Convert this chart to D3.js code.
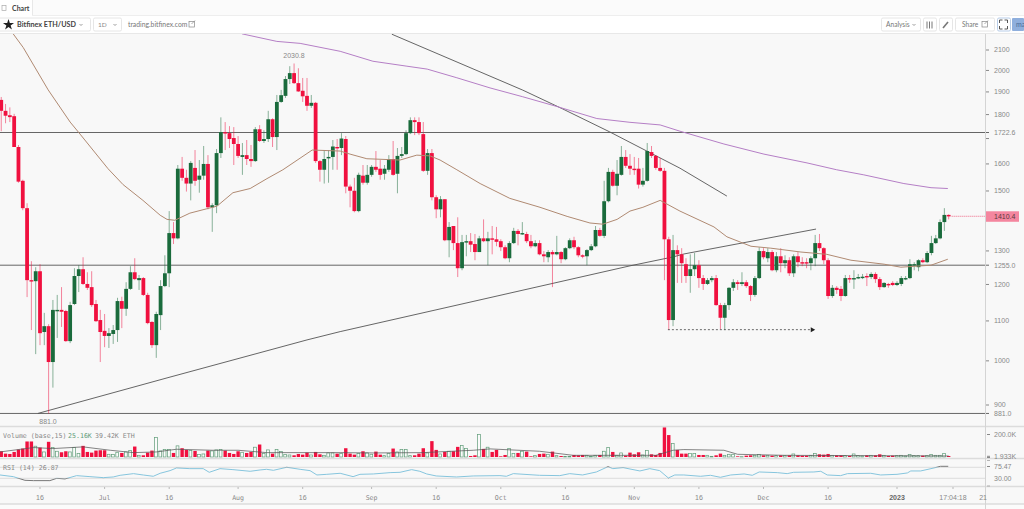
<!DOCTYPE html>
<html><head><meta charset="utf-8">
<script src="https://cdn.jsdelivr.net/npm/d3@7/dist/d3.min.js"></script>
<style>html,body{margin:0;padding:0;background:#fff;overflow:hidden}svg{display:block}text{font-family:"DejaVu Sans Mono",monospace}</style>
</head><body><svg id="c" width="1024" height="509"></svg>
<script>
const firstDay=-9; // days relative to 16 June 2022
const opens=[1862,1814,1795,1791,1664,1535,1438,1211,1208,
1237,1070,1085,996,1125,1128,1125,1047,1144,1223,
1243,1200,1191,1144,1101,1073,1060,1065,1075,1152,
1131,1186,1234,1211,1217,1169,1096,1037,1114,1194,
1231,1355,1338,1580,1546,1525,1583,1539,1554,1598,
1441,1448,1640,1724,1720,1700,1676,1625,1632,1617,
1609,1736,1688,1696,1778,1704,1853,1880,1957,1985,
1938,1903,1880,1836,1849,1609,1576,1621,1625,1664,
1660,1696,1514,1499,1428,1554,1528,1557,1587,1580,
1561,1576,1617,1561,1629,1636,1720,1774,1766,1716,
1572,1640,1476,1434,1469,1332,1378,1323,1246,1326,
1329,1320,1295,1338,1329,1338,1335,1329,1310,1276,
1323,1362,1352,1352,1329,1313,1323,1288,1279,1295,
1288,1295,1273,1307,1332,1310,1285,1282,1301,1313,
1365,1346,1462,1568,1517,1557,1625,1591,1580,1580,
1521,1535,1644,1629,1583,1572,1335,1101,1301,1288,
1258,1223,1243,1255,1217,1200,1211,1217,1141,1107,
1141,1189,1205,1200,1205,1194,1169,1217,1298,1276,
1295,1240,1282,1261,1270,1231,1282,1264,1264,1261,
1276,1323,1307,1270,1166,1189,1186,1166,1217,1214,
1217,1218,1223,1220,1229,1214,1191,1200,1203,1197,
1200,1214,1217,1255,1249,1270,1264,1292,1323,1338,
1391,1415];
const highs=[1875,1844,1829,1801,1672,1539,1455,1267,1249,
1258,1120,1090,1155,1169,1191,1128,1150,1246,1255,
1279,1234,1237,1155,1128,1117,1080,1088,1161,1164,
1205,1252,1276,1226,1220,1175,1098,1123,1211,1285,
1428,1391,1594,1625,1576,1609,1652,1613,1668,1632,
1455,1656,1786,1766,1749,1745,1708,1680,1692,1672,
1745,1753,1732,1814,1782,1884,1907,1971,2018,2031,
2008,1962,1962,1884,1853,1613,1652,1652,1692,1696,
1720,1708,1521,1546,1565,1594,1594,1594,1648,1613,
1594,1632,1688,1660,1664,1732,1786,1786,1786,1766,
1656,1656,1483,1480,1469,1391,1378,1407,1349,1349,
1355,1352,1346,1400,1359,1378,1375,1335,1316,1329,
1372,1368,1391,1359,1349,1332,1332,1298,1301,1301,
1346,1298,1310,1338,1343,1313,1288,1304,1320,1378,
1372,1535,1583,1576,1613,1668,1652,1636,1625,1621,
1583,1680,1668,1632,1621,1583,1343,1349,1316,1307,
1276,1288,1292,1270,1226,1217,1223,1226,1147,1147,
1191,1214,1211,1234,1211,1197,1223,1310,1307,1307,
1301,1295,1307,1285,1279,1288,1295,1279,1276,1282,
1349,1352,1310,1276,1197,1194,1194,1226,1226,1240,
1229,1229,1231,1234,1234,1220,1205,1203,1208,1208,
1223,1223,1273,1264,1273,1276,1298,1346,1349,1400,
1438,1417];
const lows=[1728,1761,1766,1664,1528,1431,1163,1075,1015,
1037,1037,881,937,1055,1083,1045,1042,1141,1177,
1197,1183,1136,1096,996,1032,1030,1040,1045,1080,
1112,1183,1211,1183,1166,1090,1030,1006,1075,1191,
1191,1320,1335,1535,1496,1465,1517,1492,1539,1434,
1359,1421,1621,1652,1660,1594,1621,1557,1594,1587,
1606,1684,1680,1684,1664,1652,1849,1871,1934,1934,
1898,1853,1814,1827,1602,1532,1525,1528,1576,1576,
1632,1490,1441,1424,1424,1521,1521,1550,1568,1539,
1539,1568,1554,1490,1621,1632,1716,1712,1712,1568,
1557,1465,1404,1407,1329,1279,1301,1220,1240,1282,
1295,1270,1295,1326,1255,1288,1313,1298,1273,1264,
1320,1316,1349,1323,1307,1310,1285,1264,1264,1191,
1285,1261,1270,1304,1304,1279,1276,1255,1298,1310,
1343,1339,1458,1514,1483,1554,1583,1557,1557,1507,
1514,1532,1621,1576,1568,1211,1075,1085,1203,1203,
1203,1175,1223,1189,1183,1197,1205,1139,1077,1075,
1128,1180,1183,1194,1189,1152,1164,1214,1273,1264,
1237,1234,1234,1246,1223,1220,1249,1252,1246,1240,
1252,1298,1258,1158,1161,1172,1152,1164,1203,1186,
1214,1214,1194,1214,1203,1183,1189,1189,1194,1194,
1194,1211,1214,1240,1237,1261,1261,1285,1320,1335,
1362,1400];
const closes=[1814,1793,1787,1664,1532,1438,1211,1208,1237,
1067,1085,996,1128,1128,1123,1047,1141,1223,1243,
1200,1189,1141,1098,1070,1060,1067,1075,1152,1131,
1186,1234,1214,1217,1169,1093,1037,1117,1194,1231,
1355,1338,1580,1546,1525,1602,1535,1554,1598,1441,
1448,1640,1724,1722,1696,1676,1629,1632,1617,1609,
1736,1688,1696,1778,1704,1853,1883,1957,1985,1938,
1900,1878,1836,1849,1609,1576,1617,1625,1666,1660,
1698,1514,1499,1428,1557,1528,1557,1587,1576,1557,
1580,1617,1557,1629,1636,1720,1774,1766,1720,1572,
1640,1476,1434,1469,1332,1375,1323,1246,1326,1329,
1318,1295,1338,1329,1338,1335,1327,1310,1276,1323,
1362,1352,1355,1329,1313,1323,1288,1282,1295,1288,
1295,1273,1307,1332,1310,1285,1282,1301,1313,1365,
1346,1462,1568,1517,1561,1625,1591,1580,1576,1521,
1535,1648,1629,1583,1572,1335,1101,1301,1288,1261,
1223,1243,1255,1217,1200,1211,1217,1141,1107,1141,
1189,1205,1200,1205,1194,1169,1217,1298,1279,1295,
1240,1282,1261,1270,1231,1282,1264,1261,1261,1276,
1323,1307,1270,1166,1189,1183,1166,1217,1214,1217,
1220,1221,1220,1229,1214,1191,1203,1197,1197,1203,
1217,1217,1258,1258,1270,1264,1292,1323,1338,1391,
1415,1410];
const volumesK=[51,30,27,45,66,75,138,138,96,
84,45,135,84,51,42,51,45,84,30,
99,45,39,57,60,60,24,21,42,36,
45,57,93,15,15,39,57,174,54,66,
66,36,99,78,63,57,54,21,27,57,
54,63,66,57,36,27,51,42,36,45,
87,111,30,63,30,66,48,21,18,15,
27,21,39,18,45,24,15,36,36,30,
30,78,30,21,30,51,36,24,48,21,
12,30,75,45,66,66,12,15,30,78,
36,141,63,27,45,51,51,90,102,75,
9,15,201,72,87,45,63,6,18,75,
30,36,51,48,6,12,27,30,24,48,
12,9,6,6,18,15,18,15,6,15,
18,51,84,45,15,36,12,39,24,42,
18,57,24,18,36,264,195,120,63,30,
30,30,30,18,18,15,6,15,30,15,
24,24,6,3,12,15,15,21,15,15,
12,12,15,12,15,27,15,12,12,15,
30,24,21,27,15,15,15,12,9,27,
12,9,15,15,15,24,15,9,12,12,
15,9,21,12,12,12,12,21,15,15,
30,9];
const ma200Days=[46.9,55,60.4,69.7,77.3,85.2,89.9,96.8,104.5,112.1,120,129.3,137,144,148.6,158.8,168.1,178.1,185,191.3,200.6,206.9,210.8];
const ma200Vals=[2180,2141,2131,2091,2042,2018,2004,1963,1916,1876,1833,1781,1765,1754,1728,1676,1636,1602,1576,1557,1525,1510,1507];
const ma50Days=[-6.3,-3.9,1.9,7,9.3,15.8,19.3,23.9,27.9,29.5,31.3,34.8,41.1,44.8,48.8,52.7,56.4,63.2,69.7,72,75.9,83.6,87.5,90.6,92.9,96.8,102.2,109.1,116.1,122.4,127.7,130.7,134,137,140,144,148.6,156.5,159.5,165.1,169.7,176.7,182.7,188.3,196,199.9,206.9,210.8];
const ma50Vals=[2182,2110,1907,1766,1716,1580,1521,1465,1414,1400,1397,1421,1445,1492,1507,1543,1576,1652,1648,1636,1618,1613,1632,1629,1613,1576,1525,1472,1441,1410,1388,1384,1400,1428,1441,1465,1428,1375,1343,1313,1307,1295,1288,1270,1258,1249,1255,1273];
const volMaDays=[-9.3,-1.5,3,10,16.3,21.7,27,31.7,40,46,52.6,69.7,77.4,89,100.6,104.5,116,123.8,131.6,143,147,149.5,158.8,162,172.8,211];
const volMaVals=[45,84,75,90,60,39,45,69,60,60,39,39,36,39,60,72,51,15,15,15,60,66,60,24,15,9];
const rsiDays=[-9.3,-6.2,-3.5,-1.5,2.3,3.9,5.8,8.5,11.6,14.7,17,18.6,21.7,24,26.3,27.9,30.2,31.7,34.8,37.9,39.3,41.8,44.8,48.8,51.1,52.6,54.2,57.3,60.4,62.7,64.3,66.6,69.7,72.7,74.3,77.4,81.3,83.6,86.3,88.2,89.8,92,96.7,100.6,106.8,108.3,109.9,116,120.7,123,126,129.2,131.9,133,135.4,139.3,141.6,143.9,145.9,147.4,149.5,153.4,155.7,158,160.4,163.5,165.4,167,171.2,173.5,175,179.7,181.3,182.8,185.9,187.5,192.9,195.2,199,201.4,202.2,204.5,207.6,209.1,210.9];
const rsiVals=[42.1,36,22.7,21.5,21.5,30,27.6,39.7,36,32.4,34.8,40.9,47,42,37.3,48.2,57.9,67.6,65.1,65.1,51.8,65.1,61.5,55.5,60.3,62.7,59.1,70,62.7,57.9,42.1,44.5,48.2,36,44.5,45.8,50.6,51.8,61.5,55.5,45.8,38.5,34.8,38.5,39.7,37.3,47,40.9,39.7,47,42.1,53,72.4,65.1,68.8,56.7,65.1,57.9,31.2,42.1,42.1,37.3,40.9,33.6,42.1,45.8,40.9,53,50.6,47,51.8,53,55.5,42.1,39.7,47,48.2,42.1,44.5,49.4,56.7,56.7,67.6,73.6,73.6];
const priceTicks=[2100,2000,1900,1800,1700,1600,1500,1400,1300,1200,1100,1000,900];
const priceTickLabels=["2100","2000","1900","1800","","1600","1500","","1300","1200","1100","1000","900"];
const levels=[1722.6,1255,881];
const levelLabels=["1722.6","1255.0","881.0"];
const timeTickDays=[0,15,30,46,61,77,92,107,122,138,153,168,183,199,212,219];
const timeTickLabels=["16","Jul","16","Aug","16","Sep","16","Oct","16","Nov","16","Dec","16","2023","17:04:18","21"];
const trendDown={d:[81.7,112.1,121.4,132.3,148.6,159.5],p:[2178,1906,1822,1725,1582,1480]};
const trendUp={d:[-0.5,29.5,62,69.7,137,147,149.5,180.2],p:[881,959,1050,1071,1253,1280,1289,1368]};
const arrowLine={d:[145.8,179.2],p:[1076,1076]};
const lastPrice=1410.4, highLabel=2030.8, lowLabel=881.0;

const x=d3.scaleLinear().domain([0,199]).range([40,897]);
const y=d3.scaleLog().domain([900,2100]).range([404.5,49.5]);
const vy=d3.scaleLinear().domain([0,200]).range([457,434.5]);
const ry=d3.scaleLinear().domain([30,70]).range([478.3,467.3]);
const RED="#f0103f",GRN="#1a6b3c",BG="#f8f8f8";
const NUM='"Liberation Sans",sans-serif', MONO='"DejaVu Sans Mono",monospace';
const fontFor=t=>/^[\d.:K]+$/.test(t)?NUM:MONO;
const sizeFor=t=>/^[\d.:K]+$/.test(t)?"7px":"6.6px";
const svg=d3.select("#c");
const defs=svg.append("defs");
const clip=(id,a,b,w,h)=>defs.append("clipPath").attr("id",id).append("rect").attr("x",a).attr("y",b).attr("width",w).attr("height",h);
clip("cp",0,34,986,392);clip("cv",0,427,986,31);clip("cr",0,460,986,26);
clip("rHi",0,460,986,7.3);clip("rLo",0,478.3,986,8);clip("rMid",0,467.3,986,11);

svg.append("rect").attr("width",1024).attr("height",509).attr("fill","#fbfbfb");
svg.append("rect").attr("y",34).attr("width",1024).attr("height",470).attr("fill",BG);
// header
svg.append("rect").attr("y",16).attr("width",1024).attr("height",17).attr("fill","#fff");
svg.append("rect").attr("y",15).attr("width",1024).attr("height",1).attr("fill","#eee");
svg.append("rect").attr("y",33).attr("width",1024).attr("height",1).attr("fill","#e8e8e8");
svg.append("rect").attr("width",32).attr("height",16).attr("fill","#fff");
svg.append("rect").attr("x",32).attr("width",1).attr("height",15).attr("fill","#e8e8e8");
const hdr=(t,a,b,o={})=>svg.append("text").attr("x",a).attr("y",b).text(t).attr("fill",o.c||"#555").style("font-size",(o.s||7)+"px").style("font-family",o.f||"Lato,sans-serif").style("font-weight",o.w||400);
hdr("Chart",12,10.5,{s:7,w:700,c:"#444"});
svg.append("rect").attr("x",2).attr("y",5.5).attr("width",4).attr("height",5).attr("fill","none").attr("stroke","#aaa").attr("stroke-width",.7);
const box=(a,w,st)=>svg.append("rect").attr("x",a+.5).attr("y",18).attr("width",w).attr("height",13).attr("rx",1.5).attr("fill","#fff").attr("stroke",st||"#e6e6e6");
box(-2,92);box(93,28);box(881,39);box(923,13);box(939,13);box(955,39);box(997,13,"#b8cde8");
svg.append("rect").attr("x",1012).attr("y",18).attr("width",12).attr("height",13).attr("rx",1).attr("fill","#8fafdd");
hdr("ma",1016,27,{s:7,c:"#4a6a99"});
svg.append("path").attr("d",d3.symbol(d3.symbolStar,38)).attr("transform","translate(8.5,24.8)").attr("fill","#222");
hdr("Bitfinex ETH/USD",17,27,{s:7.2,w:700,c:"#444"});
hdr("1D",98,27,{s:6.5,c:"#888"});
hdr("trading.bitfinex.com",128,27,{s:6.8,c:"#777"});
hdr("Analysis",886,27,{s:6.6,c:"#777"});
hdr("Share",962,27,{s:6.6,c:"#777"});
const chev=(a)=>svg.append("path").attr("d",`M${a-1.5} 24l1.5 1.5l1.5-1.5`).attr("fill","none").attr("stroke","#777").attr("stroke-width",.7);
chev(81);chev(115);chev(914);
const ext=(a)=>{svg.append("rect").attr("x",a).attr("y",21.5).attr("width",5.5).attr("height",5.5).attr("fill","none").attr("stroke","#888").attr("stroke-width",.7);
 svg.append("path").attr("d",`M${a+2.5} 24L${a+6} 20.5`).attr("stroke","#888").attr("stroke-width",.7);};
ext(189);ext(982);
svg.append("path").attr("d","M927 21.5v7M929.5 21.5v7M932 21.5v7").attr("stroke","#777").attr("stroke-width",1);
svg.append("path").attr("d","M943 28l5-6").attr("stroke","#777").attr("stroke-width",1.6);
svg.append("path").attr("d","M999.5 23v-3h3M1007.5 23v-3h-3M999.5 26v3h3M1007.5 26v3h-3").attr("fill","none").attr("stroke","#444").attr("stroke-width",.9);

// candles
const candles=d3.range(opens.length).map(i=>({d:firstDay+i,o:opens[i],h:highs[i],l:lows[i],c:closes[i],v:volumesK[i]}));
const plot=svg.append("g").attr("clip-path","url(#cp)");
const hline=(g,a,b,c,st,w)=>g.append("line").attr("x1",a).attr("x2",b).attr("y1",c).attr("y2",c).attr("stroke",st).attr("stroke-width",w);
levels.forEach(v=>hline(plot,0,986,y(v),"#666",1));
const tl=d=>d3.line().x((e,i)=>x(d.d[i])).y((e,i)=>y(d.p[i]))(d.d);
plot.append("path").attr("d",tl(trendDown)).attr("stroke","#555").attr("fill","none").attr("stroke-width",.9);
plot.append("path").attr("d",tl(trendUp)).attr("stroke","#555").attr("fill","none").attr("stroke-width",.9);
plot.selectAll(".w").data(candles).join("line").attr("class","w")
 .attr("x1",d=>x(d.d)).attr("x2",d=>x(d.d)).attr("y1",d=>y(d.h)).attr("y2",d=>y(d.l))
 .attr("stroke",d=>d.c>=d.o?GRN:RED).attr("stroke-opacity",.5).attr("stroke-width",1);
plot.selectAll(".b").data(candles).join("rect").attr("class","b")
 .attr("x",d=>x(d.d)-1.9).attr("width",3.8)
 .attr("y",d=>Math.min(y(d.o),y(d.c)))
 .attr("height",d=>Math.max(1.4,Math.abs(y(d.o)-y(d.c))))
 .attr("fill",d=>d.c>=d.o?GRN:RED);
const ml=(ds,vs,sc)=>d3.line().x((e,i)=>x(ds[i])).y((e,i)=>sc(vs[i]))(ds);
plot.append("path").attr("d",ml(ma50Days,ma50Vals,y)).attr("fill","none").attr("stroke","#b08a72").attr("stroke-width",1);
plot.append("path").attr("d",ml(ma200Days,ma200Vals,y)).attr("fill","none").attr("stroke","#b57fc6").attr("stroke-width",1);
// dashed arrow
plot.append("path").attr("d",tl(arrowLine)).attr("stroke","#444").attr("fill","none").attr("stroke-width",.8).attr("stroke-dasharray","2 2");
const ax=x(arrowLine.d[1]),ay=y(arrowLine.p[1]);
plot.append("path").attr("d",`M${ax-1} ${ay-2.5}L${ax+3.5} ${ay}L${ax-1} ${ay+2.5}Z`).attr("fill","#222");
// last price dotted line
plot.append("line").attr("x1",x(211)+3).attr("x2",986).attr("y1",y(lastPrice)).attr("y2",y(lastPrice)).attr("stroke","#ee5577").attr("stroke-dasharray","1 1").attr("stroke-width",.9);
const small=(t,a,b,anch)=>svg.append("text").attr("x",a).attr("y",b).text(t).attr("text-anchor",anch||"start").attr("fill","#888").style("font-size",sizeFor(t)).style("font-family",fontFor(t));
small(highLabel.toFixed(1),294,57.5,"middle");
small(lowLabel.toFixed(1),48,424,"middle");

// volume
const vg=svg.append("g").attr("clip-path","url(#cv)");
vg.selectAll("rect").data(candles).join("rect")
 .attr("x",d=>x(d.d)-1.7).attr("width",d=>d.c>=d.o?2.8:3.4)
 .attr("y",d=>vy(d.v)).attr("height",d=>vy(0)-vy(d.v))
 .attr("fill",d=>d.c>=d.o?"#fbfbfb":RED)
 .attr("stroke",d=>d.c>=d.o?"#5f9c78":"none").attr("stroke-width",.7);
vg.append("path").attr("d",ml(volMaDays,volMaVals,vy)).attr("fill","none").attr("stroke","#555").attr("stroke-opacity",.8).attr("stroke-width",.9);

// rsi
hline(svg,0,986,ry(70),"#dcdcdc",1);hline(svg,0,986,ry(30),"#dcdcdc",1);
const rp=ml(rsiDays,rsiVals,ry);
svg.append("path").attr("d",rp).attr("fill","none").attr("stroke","#86c5dd").attr("stroke-width",1).attr("clip-path","url(#rMid)");
svg.append("path").attr("d",rp).attr("fill","none").attr("stroke","#777").attr("stroke-width",1).attr("clip-path","url(#rHi)");
svg.append("path").attr("d",rp).attr("fill","none").attr("stroke","#777").attr("stroke-width",1).attr("clip-path","url(#rLo)");

// separators
[426.5,458.5,486.5,504].forEach(v=>hline(svg,0,1024,v,"#dcdcdc",1.4));
svg.append("line").attr("x1",985.5).attr("x2",985.5).attr("y1",34).attr("y2",509).attr("stroke","#d4d4d4").attr("stroke-width",1);

// axes
const pa=d3.axisRight(y).tickValues(priceTicks).tickFormat((d,i)=>priceTickLabels[i]).tickSize(3).tickPadding(5);
const pg=svg.append("g").attr("transform","translate(986,0)").call(pa);
pg.select(".domain").remove();
pg.selectAll("line").attr("stroke","#888");
pg.selectAll("text").attr("fill","#888").style("font-size","7px").style("font-family",NUM);
levels.forEach((v,i)=>{hline(svg,986,989,y(v),"#666",1);small(levelLabels[i],994,y(v)+2.4);});
svg.append("rect").attr("x",986).attr("y",y(lastPrice)-5).attr("width",33).attr("height",10.5).attr("fill","#f4869f");
svg.append("text").attr("x",994).attr("y",y(lastPrice)+2.5).text(lastPrice.toFixed(1)).attr("fill","#5a3a40").style("font-size","7px").style("font-family",NUM);
// volume / rsi axis
hline(svg,987,990,vy(200),"#888",1);small("200.0K",994,vy(200)+2.4);
hline(svg,987,990,456.3,"#888",1);hline(svg,987,990,457.5,"#888",1);small("1.933K",994,459);
hline(svg,987,990,466.5,"#888",1);small("75.47",994,469);
hline(svg,987,990,460.5,"#888",.6);hline(svg,987,990,486,"#888",.6);
small("30.00",994,ry(30)+2.4);
small("Volume (base,15)",3,438);
svg.append("text").attr("x",68).attr("y",438).text("25.16K").attr("fill","#5f9c78").style("font-size","6.6px");
small("39.42K ETH",95,438);
small("RSI (14) 26.87",3,470);

// time axis
timeTickDays.forEach((d,i)=>{
  const tx=x(d), lab=timeTickLabels[i];
  if(lab!=="21")svg.append("line").attr("x1",tx).attr("x2",tx).attr("y1",487).attr("y2",489).attr("stroke","#aaa").attr("stroke-width",.8);
  svg.append("text").attr("x",tx).attr("y",499.5).text(lab).attr("text-anchor","middle").attr("fill",lab==="2023"?"#666":"#888").style("font-size",sizeFor(lab)).style("font-family",fontFor(lab)).style("font-weight",lab==="2023"?700:400);
});
</script></body></html>
